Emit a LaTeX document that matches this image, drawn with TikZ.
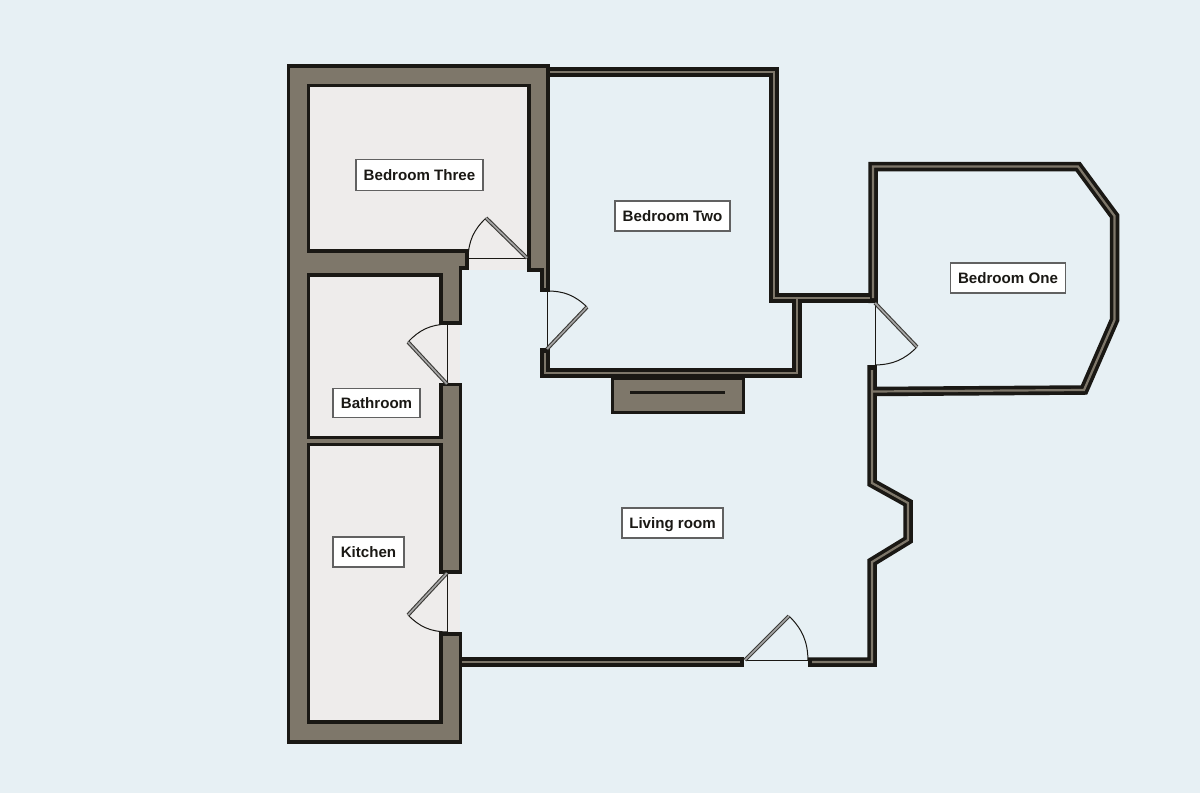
\documentclass[tikz,border=0pt]{standalone}
\usepackage{fontspec}
\setmainfont{Liberation Sans}
\definecolor{bgc}{HTML}{E7F0F4}
\definecolor{roomc}{HTML}{EEECEB}
\definecolor{wallc}{HTML}{7E776A}
\definecolor{inkc}{HTML}{1A1814}
\tikzset{
  blockwall/.style={draw=inkc,fill=wallc,line width=3.8pt,line join=miter},
  wallout/.style={draw=inkc,line width=9.5pt,line join=miter,line cap=butt},
  wallin/.style={draw=wallc,line width=2.2pt,line join=miter,line cap=butt},
  leafout/.style={draw=inkc!85,line width=3.8pt},
  leafin/.style={draw=black!35,line width=1.6pt},
  doorline/.style={draw=inkc,line width=1pt},
  label/.style={draw=black!62,fill=white,line width=1.8pt,inner sep=0pt,text height=12.2pt,text depth=1.2pt,font=\fontsize{15.1}{17}\selectfont\bfseries,text=inkc}
}
\newcommand{\door}[4]{% hinge, tip, far jamb, bend direction
  \draw[doorline] (#1) -- (#3);
  \draw[doorline] (#2) to[#4=22] (#3);
  \draw[leafout] (#1) -- (#2);
  \draw[leafin] (#1) -- (#2);
}
\begin{document}
\begin{tikzpicture}[x=1pt,y=-1pt]
\useasboundingbox (0,0) rectangle (1200,793);
\fill[bgc] (0,0) rectangle (1200,793);
% room fills
\fill[roomc] (308,85) rectangle (529,272);
\fill[roomc] (308,272) rectangle (460,722);
\fill[bgc] (461,270) rectangle (530,275);
% thin walls: outlines first
\draw[wallout] (549,72) -- (774,72) -- (774,298) -- (873,298);
\draw[wallout] (797,298) -- (797,373) -- (545,373) -- (545,348);
\draw[wallout] (873,303) -- (873,166.5) -- (1078,166.5) -- (1114.5,216) -- (1114.5,320) -- (1084,390) -- (872,391.5);
\draw[wallout] (872,365) -- (872,483) -- (908,503) -- (908,540) -- (872,562) -- (872,662) -- (808,662);
\draw[wallout] (461,662) -- (744,662);
% thin walls: grey cores
\draw[wallin] (549,72) -- (774,72) -- (774,298) -- (870,298);
\draw[wallin] (797,298) -- (797,373) -- (545,373) -- (545,353);
\draw[wallin] (873,298) -- (873,166.5) -- (1078,166.5) -- (1114.5,216) -- (1114.5,320) -- (1084,390) -- (872,391.5);
\draw[wallin] (872,370) -- (872,483) -- (908,503) -- (908,540) -- (872,562) -- (872,662) -- (812,662);
\draw[wallin] (461,662) -- (740,662);
% heavy walls
\draw[blockwall] (288.5,66) -- (548,66) -- (548,290) -- (542,290) -- (542,270) -- (529,270) -- (529,85.5) -- (308.5,85.5) -- (308.5,251) -- (467,251) -- (467,268) -- (460.5,268) -- (460.5,323) -- (441,323) -- (441,275) -- (308.5,275) -- (308.5,437.5) -- (441,437.5) -- (441,384.5) -- (460.5,384.5) -- (460.5,572) -- (441,572) -- (441,444.5) -- (308.5,444.5) -- (308.5,722) -- (441,722) -- (441,634) -- (460.5,634) -- (460.5,742) -- (288.5,742) -- cycle;
% chimney block
\draw[blockwall,line width=3pt] (612.5,378.5) rectangle (743,412);
\draw[draw=inkc,line width=3pt] (630,392.5) -- (725,392.5);
% doors
\door{527,258}{486,218}{468,258}{bend right}
\door{547,349}{587,307}{547,291}{bend right}
\door{447,384}{408,342}{447,324}{bend left}
\door{447,573}{408,615}{447,632}{bend right}
\door{875,303}{917,347}{875,365}{bend left}
\door{745,660}{789,616}{808,660}{bend left}
% labels
\node[label,minimum width=127pt,minimum height=31pt] (bthree) at (419.5,175) {Bedroom Three};
\node[label,minimum width=115pt,minimum height=30pt] (btwo) at (672.5,216) {Bedroom Two};
\node[label,minimum width=115pt,minimum height=30pt] (bone) at (1008,278) {Bedroom One};
\node[label,minimum width=87pt,minimum height=29pt] (bath) at (376.5,403) {Bathroom};
\node[label,minimum width=71pt,minimum height=30pt] (kit) at (368.5,552) {Kitchen};
\node[label,minimum width=101pt,minimum height=30pt] (liv) at (672.5,523) {Living room};
\end{tikzpicture}
\end{document}
